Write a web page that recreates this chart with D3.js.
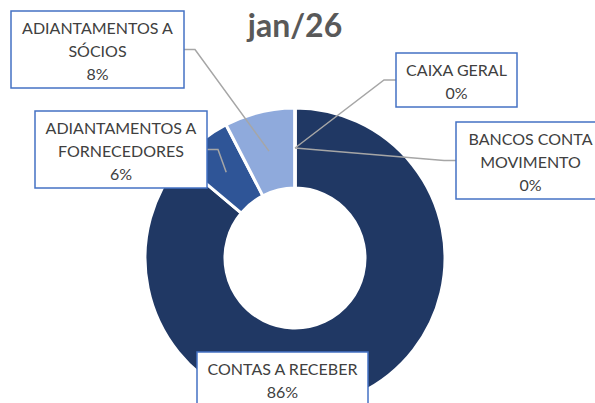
<!DOCTYPE html>
<html lang="pt">
<head>
<meta charset="utf-8">
<title>jan/26</title>
<script src="https://cdn.jsdelivr.net/npm/d3@7"></script>
<style>
  body { margin: 0; background: #fff; }
  svg { display: block; font-family: Lato, "Open Sans", sans-serif; }
</style>
</head>
<body>
<script>

// data
var title = "jan/26";
var categories = ["CONTAS A RECEBER", "ADIANTAMENTOS A FORNECEDORES", "ADIANTAMENTOS A SÓCIOS", "CAIXA GERAL", "BANCOS CONTA MOVIMENTO"];
var values = [86.1, 6.3, 7.6, 0, 0];

// label text lines, split as in the chart
var labelLines = [["CONTAS A RECEBER"], ["ADIANTAMENTOS A", "FORNECEDORES"], ["ADIANTAMENTOS A", "SÓCIOS"], ["CAIXA GERAL"], ["BANCOS CONTA", "MOVIMENTO"]];

// layout
var w = 595, h = 403;
var cx = 295, cy = 258;
var rOuter = 150, rInner = 70;
var colors = ["#203864", "#2F5597", "#8FAADC", "#A9C0E8", "#4472C4"];
// label boxes: left, top, width, leader side
var boxes = [
  {x: 197, y: 352, w: 171, side: null},
  {x: 35, y: 111, w: 172, side: "right"},
  {x: 11, y: 11, w: 173, side: "right"},
  {x: 396, y: 53, w: 121, side: "left"},
  {x: 456, y: 122, w: 149, side: "left"}
];

var total = d3.sum(values);
var data = categories.map(function(c, i) {
  return {name: c, value: values[i], lines: labelLines[i], box: boxes[i], color: colors[i]};
});

var svg = d3.select("body").append("svg")
  .attr("width", w)
  .attr("height", h);

svg.append("rect").attr("width", w).attr("height", h).attr("fill", "#fff");

// title
svg.append("text")
  .attr("x", 295)
  .attr("y", 37)
  .attr("text-anchor", "middle")
  .attr("font-size", "32px")
  .attr("font-weight", "bold")
  .attr("fill", "#595959")
  .text(title);

var pie = d3.pie()
  .sort(null)
  .value(function(d) { return d.value; });

var arc = d3.arc()
  .innerRadius(rInner)
  .outerRadius(rOuter);

var arcs = pie(data);

var g = svg.append("g").attr("transform", "translate(" + cx + "," + cy + ")");

// slices
g.selectAll("path")
  .data(arcs)
  .enter()
  .append("path")
  .attr("d", arc)
  .attr("fill", function(d) { return d.data.color; })
  .attr("stroke", "#fff")
  .attr("stroke-width", 3);

// leader lines
svg.selectAll("polyline.leader")
  .data(arcs.filter(function(d) { return d.data.box.side; }))
  .enter()
  .append("polyline")
  .attr("class", "leader")
  .attr("fill", "none")
  .attr("stroke", "#A6A6A6")
  .attr("stroke-width", 1.5)
  .attr("points", function(d) {
    var b = d.data.box;
    var bh = 23 * (d.data.lines.length + 1) + 8;
    var my = b.y + bh / 2;
    var ex = b.side === "right" ? b.x + b.w : b.x;
    var elbow = b.side === "right" ? ex + 11 : ex - 12;
    var c = arc.centroid(d);
    return [[ex, my], [elbow, my], [cx + c[0], cy + c[1]]].join(" ");
  });

// label boxes
var labels = svg.selectAll("g.label")
  .data(arcs)
  .enter()
  .append("g")
  .attr("class", "label");

labels.append("rect")
  .attr("x", function(d) { return d.data.box.x; })
  .attr("y", function(d) { return d.data.box.y; })
  .attr("width", function(d) { return d.data.box.w; })
  .attr("height", function(d) { return 23 * (d.data.lines.length + 1) + 8; })
  .attr("fill", "#fff")
  .attr("stroke", "#4472C4")
  .attr("stroke-width", 1.5);

labels.each(function(d) {
  var b = d.data.box;
  var lines = d.data.lines.concat([Math.round(d.data.value / total * 100) + "%"]);
  d3.select(this).selectAll("text")
    .data(lines)
    .enter()
    .append("text")
    .attr("x", b.x + b.w / 2)
    .attr("y", function(t, i) { return b.y + 23 + 23 * i; })
    .attr("text-anchor", "middle")
    .attr("font-size", "16px")
    .attr("fill", "#404040")
    .text(function(t) { return t; });
});

</script>
</body>
</html>
